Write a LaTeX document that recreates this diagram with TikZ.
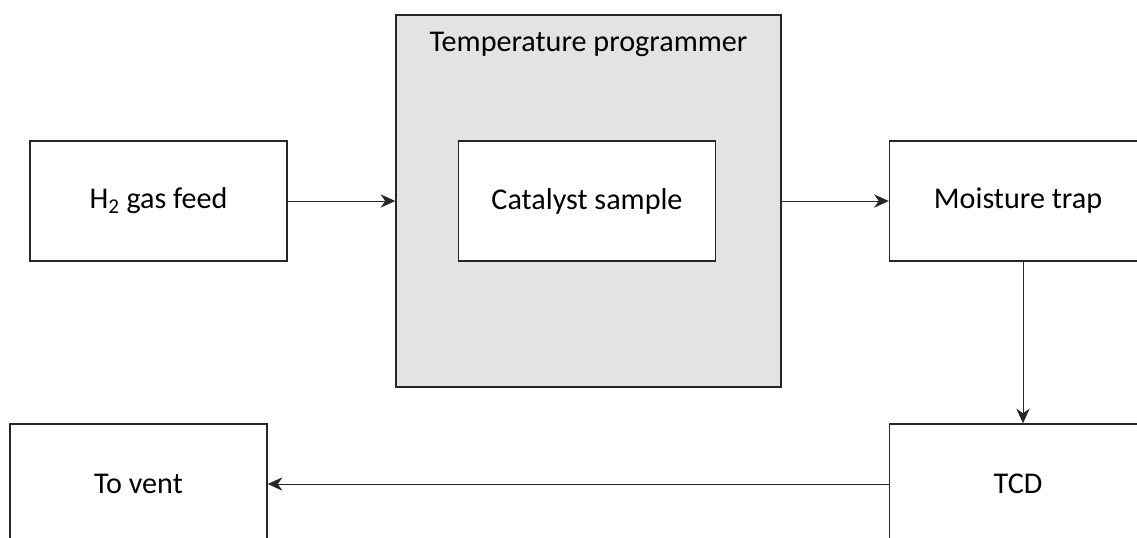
\documentclass[tikz,border=0pt]{standalone}
\usepackage{fontspec}
\setmainfont{Carlito}
\usetikzlibrary{arrows.meta}
\begin{document}
\begin{tikzpicture}[x=0.75pt,y=-0.75pt,
  txt/.style={font=\fontsize{22.6}{27}\selectfont},
  box/.style={draw=black!85,line width=1.1pt,minimum width=192.75pt,minimum height=90pt,inner sep=0pt,txt},
  flow/.style={draw=black!85,line width=0.7pt,-{Stealth[length=11pt,width=10pt,inset=3.5pt]}}]
\useasboundingbox (0,0) rectangle (1137,537);
\clip (0,0) rectangle (1137,537);
\node[box,fill=black!11,minimum width=288.75pt,minimum height=279pt] (tp) at (588.5,201) {};
\node[txt] (tpl) at (588.5,44) {Temperature programmer};
\node[box,fill=white] (cat) at (587,201) {\raisebox{-2pt}{Catalyst sample}};
\node[box] (h2) at (158.5,201) {\raisebox{-2pt}{H\textsubscript{2} gas feed}};
\node[box] (moist) at (1018,201) {\raisebox{-2pt}{Moisture trap}};
\node[box] (tcd) at (1018,484) {TCD};
\node[box] (vent) at (138.5,484) {To vent};
\draw[flow] (h2.east) -- (tp.west);
\draw[flow] (tp.east) -- (moist.west);
\draw[flow] ([xshift=3.75pt]moist.south) -- ([xshift=3.75pt]tcd.north);
\draw[flow] (tcd.west) -- (vent.east);
\end{tikzpicture}
\end{document}
